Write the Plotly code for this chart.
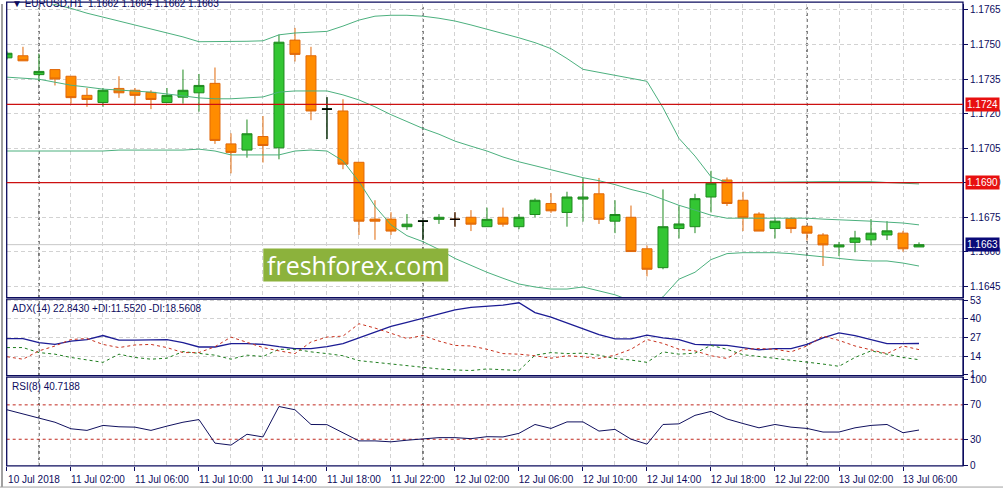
import plotly.graph_objects as go
import pandas as pd

# hourly EURUSD candles, 10 Jul 22:00 .. 13 Jul 07:00
times = pd.date_range("2018-07-10 22:00", periods=58, freq="h")

opens = [1.17442, 1.17451, 1.17369, 1.17391, 1.17362, 1.17279, 1.17248, 1.17309, 1.17301, 1.17292,
         1.17248, 1.17271, 1.17290, 1.17331, 1.17068, 1.17041, 1.17100, 1.17051, 1.17519, 1.17451,
         1.17219, 1.17211, 1.16988, 1.16741, 1.16741, 1.16708, 1.16732, 1.16740, 1.16740, 1.16749,
         1.16708, 1.16749, 1.16708, 1.16761, 1.16809, 1.16770, 1.16828, 1.16851, 1.16732, 1.16749,
         1.16612, 1.16530, 1.16700, 1.16708, 1.16837, 1.16911, 1.16823, 1.16763, 1.16700, 1.16743,
         1.16710, 1.16672, 1.16620, 1.16640, 1.16651, 1.16672, 1.16680, 1.16620]
highs = [1.17470, 1.17490, 1.17460, 1.17391, 1.17362, 1.17311, 1.17311, 1.17362, 1.17311, 1.17301,
         1.17311, 1.17391, 1.17372, 1.17400, 1.17114, 1.17174, 1.17189, 1.17543, 1.17572, 1.17490,
         1.17271, 1.17262, 1.16988, 1.16823, 1.16771, 1.16763, 1.16735, 1.16763, 1.16771, 1.16780,
         1.16791, 1.16791, 1.16763, 1.16831, 1.16854, 1.16860, 1.16920, 1.16920, 1.16823, 1.16800,
         1.16626, 1.16870, 1.16801, 1.16851, 1.16951, 1.16922, 1.16860, 1.16771, 1.16749, 1.16749,
         1.16710, 1.16680, 1.16642, 1.16690, 1.16741, 1.16732, 1.16690, 1.16640]
lows = [1.17435, 1.17429, 1.17341, 1.17322, 1.17243, 1.17229, 1.17229, 1.17268, 1.17243, 1.17219,
        1.17248, 1.17243, 1.17208, 1.17068, 1.16940, 1.17008, 1.16987, 1.17001, 1.17426, 1.17171,
        1.17089, 1.16958, 1.16672, 1.16651, 1.16672, 1.16694, 1.16651, 1.16720, 1.16708, 1.16689,
        1.16708, 1.16708, 1.16697, 1.16749, 1.16768, 1.16708, 1.16730, 1.16720, 1.16680, 1.16600,
        1.16492, 1.16523, 1.16657, 1.16680, 1.16770, 1.16798, 1.16689, 1.16689, 1.16657, 1.16680,
        1.16648, 1.16537, 1.16580, 1.16597, 1.16627, 1.16650, 1.16599, 1.16620]
closes = [1.17462, 1.17429, 1.17383, 1.17350, 1.17269, 1.17261, 1.17301, 1.17290, 1.17279, 1.17261,
          1.17279, 1.17301, 1.17322, 1.17083, 1.17031, 1.17112, 1.17061, 1.17510, 1.17457, 1.17211,
          1.17219, 1.16980, 1.16732, 1.16732, 1.16689, 1.16719, 1.16732, 1.16749, 1.16740, 1.16719,
          1.16740, 1.16719, 1.16749, 1.16823, 1.16777, 1.16837, 1.16837, 1.16740, 1.16761, 1.16600,
          1.16523, 1.16708, 1.16720, 1.16830, 1.16897, 1.16809, 1.16747, 1.16689, 1.16732, 1.16700,
          1.16680, 1.16629, 1.16629, 1.16659, 1.16680, 1.16690, 1.16612, 1.16630]

# Bollinger bands
bb_upper = [1.17721, 1.17700, 1.17687, 1.17674, 1.17657, 1.17636, 1.17619, 1.17602, 1.17585, 1.17567,
            1.17550, 1.17533, 1.17512, 1.17512, 1.17512, 1.17514, 1.17516, 1.17542, 1.17550, 1.17555,
            1.17557, 1.17580, 1.17606, 1.17623, 1.17627, 1.17627, 1.17623, 1.17614, 1.17602, 1.17585,
            1.17567, 1.17550, 1.17529, 1.17508, 1.17482, 1.17439, 1.17392, 1.17379, 1.17366, 1.17353,
            1.17340, 1.17225, 1.17092, 1.17015, 1.16925, 1.16900, 1.16900, 1.16900, 1.16901, 1.16902,
            1.16903, 1.16904, 1.16905, 1.16905, 1.16904, 1.16900, 1.16897, 1.16894]
bb_mid = [1.17358, 1.17353, 1.17349, 1.17336, 1.17323, 1.17315, 1.17306, 1.17302, 1.17298, 1.17293,
          1.17285, 1.17276, 1.17268, 1.17264, 1.17264, 1.17268, 1.17272, 1.17293, 1.17298, 1.17298,
          1.17298, 1.17281, 1.17259, 1.17229, 1.17195, 1.17165, 1.17135, 1.17110, 1.17080, 1.17058,
          1.17037, 1.17011, 1.16990, 1.16973, 1.16955, 1.16938, 1.16921, 1.16908, 1.16891, 1.16870,
          1.16853, 1.16827, 1.16801, 1.16780, 1.16758, 1.16745, 1.16745, 1.16745, 1.16745, 1.16745,
          1.16745, 1.16741, 1.16739, 1.16737, 1.16732, 1.16728, 1.16724, 1.16716]
bb_lower = [1.17037, 1.17037, 1.17037, 1.17037, 1.17037, 1.17037, 1.17037, 1.17041, 1.17041, 1.17041,
            1.17041, 1.17041, 1.17045, 1.17037, 1.17020, 1.17020, 1.17020, 1.17020, 1.17037, 1.17041,
            1.17037, 1.16994, 1.16904, 1.16797, 1.16716, 1.16669, 1.16643, 1.16609, 1.16570, 1.16540,
            1.16510, 1.16484, 1.16459, 1.16446, 1.16437, 1.16437, 1.16446, 1.16429, 1.16412, 1.16386,
            1.16373, 1.16403, 1.16480, 1.16510, 1.16565, 1.16591, 1.16595, 1.16595, 1.16595, 1.16591,
            1.16584, 1.16576, 1.16567, 1.16563, 1.16559, 1.16559, 1.16550, 1.16537]

adx = [26.3, 26.3, 23.4, 22.2, 24.5, 25.6, 28.4, 25.2, 25.2, 25.6,
       25.6, 23.4, 20.4, 20.4, 22.7, 22.7, 22.2, 20.6, 19.3, 19.3,
       20.6, 22.7, 26.8, 30.7, 34.8, 37.5, 40.3, 43.4, 46.2, 48.0,
       48.9, 49.6, 51.2, 44.4, 41.2, 37.1, 33.0, 29.1, 26.1, 26.1,
       28.6, 26.8, 25.6, 22.2, 21.8, 21.5, 20.0, 18.4, 19.3, 19.3,
       22.2, 26.8, 30.2, 28.4, 25.6, 22.8, 22.8, 22.84]
plus_di = [20.0, 20.0, 16.5, 15.4, 13.1, 11.3, 9.7, 15.4, 13.1, 11.9,
           12.6, 17.2, 16.1, 14.7, 11.9, 14.7, 13.8, 18.8, 18.8, 17.0,
           15.8, 14.3, 10.9, 9.7, 8.5, 7.4, 6.3, 5.1, 4.4, 4.0,
           5.1, 4.7, 4.0, 14.7, 16.5, 15.8, 16.1, 14.7, 12.4, 11.3,
           9.7, 17.0, 15.4, 16.1, 21.5, 18.8, 15.0, 13.8, 12.6, 11.3,
           9.7, 8.5, 6.95, 13.1, 17.7, 15.4, 13.1, 11.55]
minus_di = [13.6, 11.9, 17.7, 21.1, 25.6, 26.3, 22.2, 20.0, 21.8, 22.2,
            20.0, 16.5, 16.5, 20.6, 27.3, 23.4, 20.0, 17.7, 15.8, 23.9,
            27.3, 28.0, 36.6, 33.6, 30.2, 26.3, 28.4, 24.5, 21.5, 21.1,
            18.8, 15.8, 15.4, 14.3, 12.6, 14.3, 13.6, 12.4, 14.7, 18.8,
            25.6, 22.9, 18.8, 17.7, 14.3, 12.4, 18.8, 19.3, 18.8, 17.0,
            21.1, 28.0, 25.0, 21.1, 18.4, 15.8, 21.1, 18.56]
rsi = [64.3, 59.3, 54.7, 49.8, 42.2, 40.3, 46.1, 44.5, 44.1, 40.3,
       45.3, 49.8, 52.9, 25.5, 23.2, 35.8, 32.7, 68.1, 64.3, 47.2,
       47.0, 37.6, 28.1, 28.1, 27.0, 28.9, 30.7, 31.9, 31.9, 30.7,
       33.0, 32.7, 36.9, 47.2, 42.6, 50.2, 50.2, 39.5, 41.5, 30.1,
       24.3, 47.2, 47.9, 57.8, 62.4, 53.6, 48.3, 43.3, 47.2, 44.1,
       42.6, 38.4, 38.4, 43.3, 46.1, 47.2, 37.6, 40.72]

levels = [1.1724, 1.1690]
bid = 1.1663
price_ticks = [1.1645, 1.1660, 1.1675, 1.1690, 1.1705, 1.1720, 1.1735, 1.1750, 1.1765]
adx_ticks = [53, 40, 27, 14, 1]
rsi_ticks = [100, 70, 30, 0]
rsi_levels = [70, 30]
day_breaks = ["2018-07-11 00:00", "2018-07-12 00:00", "2018-07-13 00:00"]

W, H = 1003, 495
NAVY = "#0c0c5e"
GRID = "#d2d2d2"
FONT = "Liberation Sans"


def fy(p):
    return 1 - p / H


x_dom = [6.7 / W, 963 / W]
main_dom = [fy(299), 1.0]
adx_dom = [fy(378.5), fy(300.5)]
rsi_dom = [fy(470.5), fy(380)]

fig = go.Figure()

# candles
fig.add_trace(go.Candlestick(
    x=times, open=opens, high=highs, low=lows, close=closes,
    increasing=dict(line=dict(color="#1f8a1f", width=1), fillcolor="#33c633"),
    decreasing=dict(line=dict(color="#e0680a", width=1), fillcolor="#ff8c00"),
    whiskerwidth=0, showlegend=False, hoverinfo="skip", xaxis="x", yaxis="y"))

doji = [i for i in range(len(times)) if opens[i] == closes[i]]
fig.add_trace(go.Candlestick(
    x=[times[i] for i in doji], open=[opens[i] for i in doji], high=[highs[i] for i in doji],
    low=[lows[i] for i in doji], close=[closes[i] for i in doji],
    increasing=dict(line=dict(color="black", width=1), fillcolor="black"),
    decreasing=dict(line=dict(color="black", width=1), fillcolor="black"),
    whiskerwidth=0, showlegend=False, hoverinfo="skip", xaxis="x", yaxis="y"))

for band in (bb_upper, bb_mid, bb_lower):
    fig.add_trace(go.Scatter(x=times, y=band, mode="lines", line=dict(color="#4cb07e", width=1),
                             showlegend=False, hoverinfo="skip", xaxis="x", yaxis="y"))

# ADX window
fig.add_trace(go.Scatter(x=times, y=adx, mode="lines", line=dict(color="#1c1c94", width=1.3),
                         showlegend=False, xaxis="x2", yaxis="y2"))
fig.add_trace(go.Scatter(x=times, y=plus_di, mode="lines",
                         line=dict(color="#1e7d1e", width=1, dash="3px,3px"),
                         showlegend=False, xaxis="x2", yaxis="y2"))
fig.add_trace(go.Scatter(x=times, y=minus_di, mode="lines",
                         line=dict(color="#c8321e", width=1, dash="3px,3px"),
                         showlegend=False, xaxis="x2", yaxis="y2"))

# RSI window
fig.add_trace(go.Scatter(x=times, y=rsi, mode="lines", line=dict(color="#10105e", width=1),
                         showlegend=False, xaxis="x3", yaxis="y3"))

x_range = ["2018-07-10 21:59", "2018-07-13 09:45"]
tick_idx = list(range(0, len(times), 4))
tick_vals = [times[i] for i in tick_idx]
tick_text = ["10 Jul 2018"] + [times[i].strftime("%d %b %H:%M") for i in tick_idx[1:]]
minor_grid = dict(tickvals=list(times[::2]), showgrid=True, gridcolor=GRID, griddash="4px,3px",
                  gridwidth=1)

common_x = dict(domain=x_dom, range=x_range, type="date", tickvals=tick_vals, showgrid=True,
                gridcolor=GRID, griddash="4px,3px", gridwidth=1, minor=minor_grid, zeroline=False,
                showline=False)

fig.update_layout(
    width=W, height=H,
    margin=dict(l=0, r=0, t=0, b=0),
    paper_bgcolor="white", plot_bgcolor="white",
    boxgap=0.375, boxgroupgap=0,
    font=dict(family=FONT, size=10, color=NAVY),
    showlegend=False,
    xaxis=dict(anchor="y", showticklabels=False, ticks="", rangeslider=dict(visible=False),
               **common_x),
    xaxis2=dict(anchor="y2", matches="x", showticklabels=False, ticks="", **common_x),
    xaxis3=dict(anchor="y3", matches="x", showticklabels=True, ticktext=tick_text, ticks="outside",
                ticklen=4, tickcolor=NAVY, ticklabelshift=27,
                tickfont=dict(family=FONT, size=10, color=NAVY), **common_x),
    yaxis=dict(domain=main_dom, anchor="x", side="right", range=[1.16400, 1.17676],
               tickvals=price_ticks, ticktext=[f"{v:.4f}" for v in price_ticks],
               ticks="outside", ticklen=4, tickcolor=NAVY, showgrid=True, gridcolor=GRID,
               griddash="4px,3px", zeroline=False, showline=True, linecolor=NAVY,
               tickfont=dict(family=FONT, size=10, color=NAVY)),
    yaxis2=dict(domain=adx_dom, anchor="x2", side="right", range=[0.45, 53.82],
                tickvals=adx_ticks, ticktext=[str(v) for v in adx_ticks],
                ticks="outside", ticklen=4, tickcolor=NAVY, showgrid=True, gridcolor=GRID,
                griddash="4px,3px", zeroline=False, showline=True, linecolor=NAVY,
                tickfont=dict(family=FONT, size=10, color=NAVY)),
    yaxis3=dict(domain=rsi_dom, anchor="x3", side="right", range=[-1.03, 102.3],
                tickvals=rsi_ticks, ticktext=[str(v) for v in rsi_ticks],
                ticks="outside", ticklen=4, tickcolor=NAVY, showgrid=False, zeroline=False,
                showline=True, linecolor=NAVY,
                tickfont=dict(family=FONT, size=10, color=NAVY)),
)

# panel frames
for y0, y1 in [(299, -2), (378.5, 300.5), (470.5, 380)]:
    fig.add_shape(type="rect", xref="paper", yref="paper", x0=x_dom[0], x1=x_dom[1],
                  y0=fy(y0), y1=fy(y1), line=dict(color=NAVY, width=1.3), layer="above")

# window frame bits
fig.add_shape(type="line", xref="paper", yref="paper", x0=2 / W, x1=2 / W, y0=fy(492), y1=1,
              line=dict(color="#a0a0a0", width=2))
fig.add_shape(type="line", xref="paper", yref="paper", x0=0, x1=1, y0=fy(492), y1=fy(492),
              line=dict(color="#a0a0a0", width=1))

# day separators
for d in day_breaks:
    fig.add_shape(type="line", xref="x", yref="paper", x0=d, x1=d, y0=fy(470.5), y1=1,
                  line=dict(color="black", width=1, dash="3px,3px"), layer="below")

# bid line
fig.add_shape(type="line", xref="paper", yref="y", x0=x_dom[0], x1=x_dom[1], y0=bid, y1=bid,
              line=dict(color="#c8c8c8", width=1), layer="below")

# horizontal levels
for lv in levels:
    fig.add_shape(type="line", xref="paper", yref="y", x0=x_dom[0], x1=x_dom[1], y0=lv, y1=lv,
                  line=dict(color="#cc1010", width=1.2), layer="above")
    fig.add_annotation(xref="paper", yref="y", x=965 / W, y=lv, xanchor="left", yanchor="middle",
                       text=f"{lv:.4f}", showarrow=False, bgcolor="#e81010", borderpad=1,
                       font=dict(family=FONT, size=10, color="white"))

fig.add_annotation(xref="paper", yref="y", x=965 / W, y=bid, xanchor="left", yanchor="middle",
                   text=f"{bid:.4f}", showarrow=False, bgcolor="#0a0a78", borderpad=1,
                   font=dict(family=FONT, size=10, color="white"))

# RSI levels
for lv in rsi_levels:
    fig.add_shape(type="line", xref="paper", yref="y3", x0=x_dom[0], x1=x_dom[1], y0=lv, y1=lv,
                  line=dict(color="#c0281e", width=1, dash="3px,3px"), layer="below")

# watermark
fig.add_shape(type="rect", xref="paper", yref="paper", x0=263.3 / W, x1=448.3 / W,
              y0=fy(282.7), y1=fy(249), fillcolor="#8cb23c", line=dict(width=0), layer="above")
fig.add_annotation(xref="paper", yref="paper", x=355.8 / W, y=fy(266), text="freshforex.com",
                   showarrow=False, font=dict(family="Open Sans", size=25, color="white"),
                   xanchor="center", yanchor="middle")

# window captions (the symbol line is half cut by the top edge, as in the terminal)
fig.add_annotation(xref="paper", yref="paper", x=10 / W, y=fy(-0.5), xanchor="left",
                   yanchor="middle", showarrow=False,
                   text="\u25bc EURUSD,H1  1.1662 1.1664 1.1662 1.1663",
                   font=dict(family=FONT, size=10, color=NAVY))
fig.add_annotation(xref="paper", yref="paper", x=10 / W, y=fy(310.5), xanchor="left",
                   yanchor="middle", showarrow=False,
                   text="ADX(14) 22.8430 +DI:11.5520 -DI:18.5608",
                   font=dict(family=FONT, size=10, color=NAVY))
fig.add_annotation(xref="paper", yref="paper", x=10 / W, y=fy(389.5), xanchor="left",
                   yanchor="middle", showarrow=False, text="RSI(8) 40.7188",
                   font=dict(family=FONT, size=10, color=NAVY))

# the page body has a default margin; drop it so the chart sits at the window corner
fig.write_html("out.html", config={"displayModeBar": False},
               post_script="document.body.style.margin='0px';"
               "document.body.style.overflow='hidden';")
